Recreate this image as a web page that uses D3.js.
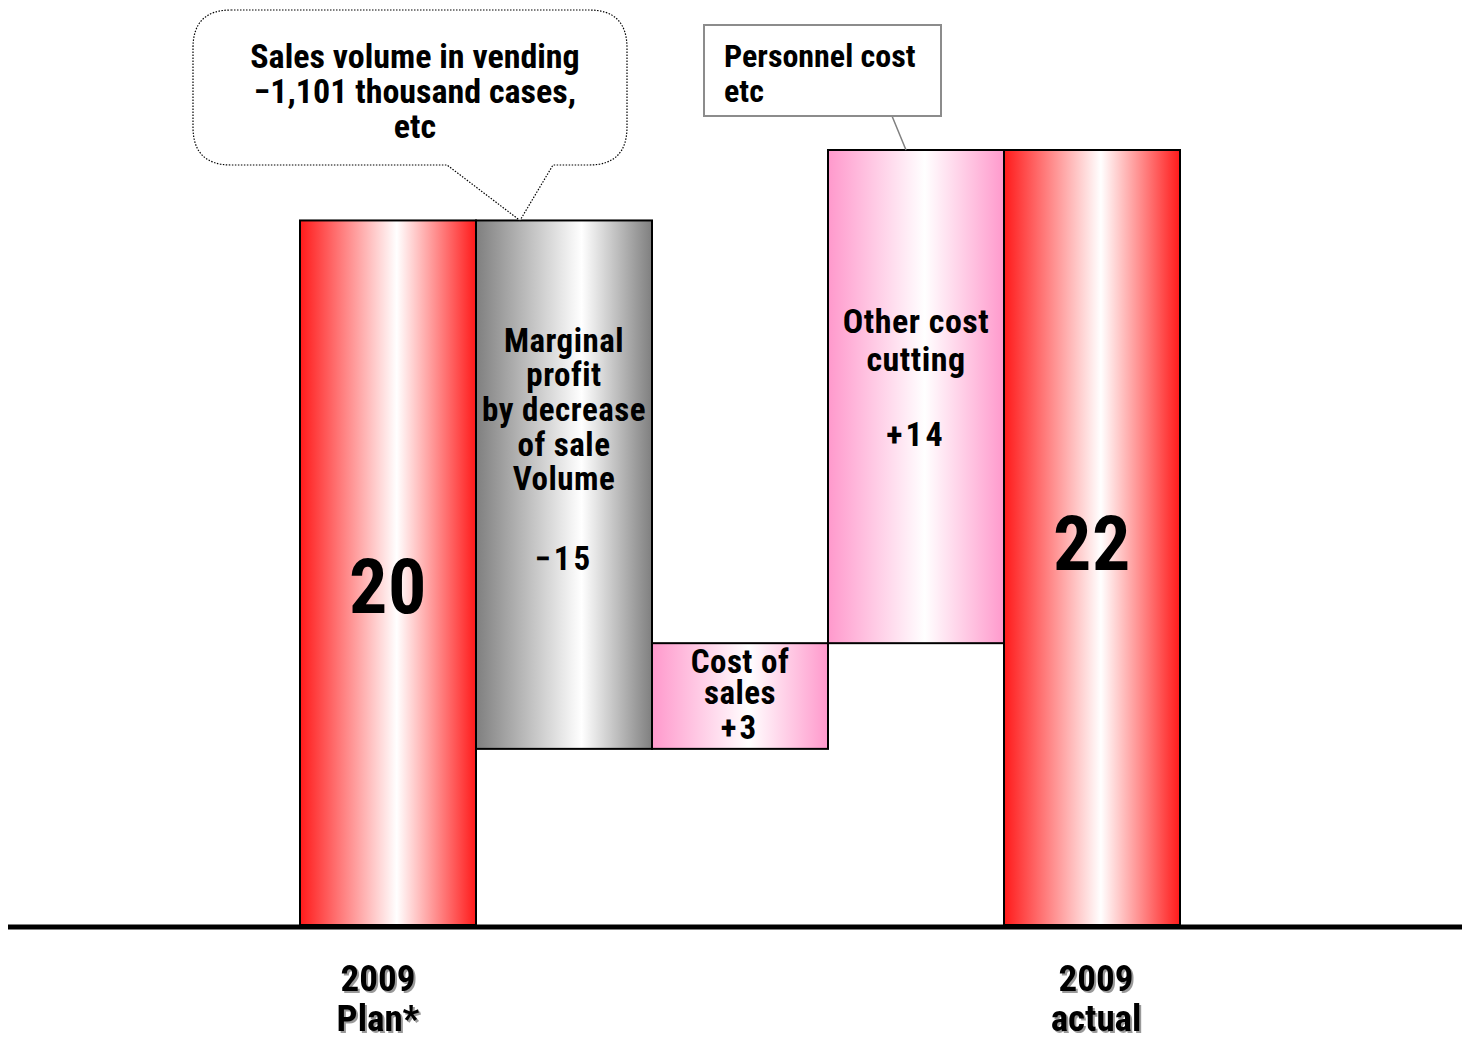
<!DOCTYPE html>
<html>
<head>
<meta charset="utf-8">
<script src="https://cdn.jsdelivr.net/npm/d3@7"></script>
<style>
  html, body { margin: 0; padding: 0; background: #fff; }
  svg { display: block; }
  text { font-family: "Liberation Sans Narrow", "Roboto Condensed", "Liberation Sans", sans-serif; font-weight: bold; fill: #000; }
</style>
</head>
<body>
<svg id="chart" width="1462" height="1040"></svg>
<script>
// Operating income bridge: 2009 plan -> 2009 actual
const categories = ["plan", "marginal", "costOfSales", "otherCost", "actual"];
const values = [20, -15, 3, 14, 22];
const kinds = ["total", "delta", "delta", "delta", "total"];
const barLabels = [
  ["20"],
  ["Marginal", "profit", "by decrease", "of sale", "Volume", "\u221215"],
  ["Cost of", "sales", "+3"],
  ["Other cost", "cutting", "+14"],
  ["22"]
];
const axisLabels = [["2009", "Plan*"], null, null, null, ["2009", "actual"]];
const calloutText = ["Sales volume in vending", "\u22121,101 thousand cases,", "etc"];
const noteText = ["Personnel cost", "etc"];

const svg = d3.select("#chart");
const defs = svg.append("defs");

function hGradient(id, edge, mid, midPos) {
  const g = defs.append("linearGradient").attr("id", id)
    .attr("x1", "0%").attr("x2", "100%").attr("y1", "0%").attr("y2", "0%");
  g.append("stop").attr("offset", "0%").attr("stop-color", edge);
  g.append("stop").attr("offset", midPos).attr("stop-color", mid);
  g.append("stop").attr("offset", "100%").attr("stop-color", edge);
}
hGradient("gRed", "#ff1a1a", "#ffffff", "55%");
hGradient("gGray", "#7f7f7f", "#ffffff", "60%");
hGradient("gPink", "#ff99cc", "#ffffff", "55%");

const shadow = defs.append("filter").attr("id", "shadow")
  .attr("x", "-20%").attr("y", "-20%").attr("width", "140%").attr("height", "140%");
shadow.append("feDropShadow").attr("dx", 2).attr("dy", 2)
  .attr("stdDeviation", 0.6).attr("flood-color", "#000").attr("flood-opacity", 0.4);

// Scales
const x = d3.scaleBand().domain(categories).range([300, 1180]).padding(0);
const y = d3.scaleLinear().domain([0, 22]).range([925, 150]);

// Waterfall extents
let running = 0;
const bars = categories.map((c, i) => {
  let lo, hi;
  if (kinds[i] === "total") {
    lo = 0; hi = values[i]; running = values[i];
  } else {
    const next = running + values[i];
    lo = Math.min(running, next); hi = Math.max(running, next);
    running = next;
  }
  return { cat: c, value: values[i], kind: kinds[i], lo, hi, i };
});

const fillFor = d => d.kind === "total" ? "url(#gRed)" : (d.value < 0 ? "url(#gGray)" : "url(#gPink)");

svg.append("g").selectAll("rect").data(bars).join("rect")
  .attr("x", d => x(d.cat))
  .attr("width", x.bandwidth())
  .attr("y", d => y(d.hi))
  .attr("height", d => y(d.lo) - y(d.hi))
  .attr("fill", fillFor)
  .attr("stroke", "#000")
  .attr("stroke-width", 2);

// Baseline
svg.append("line")
  .attr("x1", 8).attr("x2", 1462)
  .attr("y1", y(0) + 2).attr("y2", y(0) + 2)
  .attr("stroke", "#000").attr("stroke-width", 5);

// Labels inside bars: line baselines offset from the bar's top (deltas) or from the axis (totals)
const labelLayout = [
  { from: "base", offsets: [-312], size: 76 },
  { from: "top", offsets: [132, 166, 201, 236, 270, 350], size: 33 },
  { from: "top", offsets: [30, 61, 96], size: 33 },
  { from: "top", offsets: [183, 221, 296], size: 34 },
  { from: "base", offsets: [-355], size: 76 }
];
bars.forEach(d => {
  const lay = labelLayout[d.i];
  const cx = x(d.cat) + x.bandwidth() / 2;
  const ref = lay.from === "top" ? y(d.hi) : y(0);
  const t = svg.append("text")
    .attr("text-anchor", "middle")
    .style("font-size", lay.size + "px");
  const lines = barLabels[d.i];
  lines.forEach((line, k) => {
    const isValue = k === lines.length - 1 && lines.length > 1;
    t.append("tspan").attr("x", cx).attr("y", ref + lay.offsets[k])
      .style("letter-spacing", isValue ? "3px" : "0.5px")
      .text(line);
  });
});

// Category labels below the axis
bars.forEach(d => {
  const lines = axisLabels[d.i];
  if (!lines) return;
  const cx = x(d.cat) + x.bandwidth() / 2 - (d.i === 0 ? 10 : -4);
  const t = svg.append("text")
    .attr("text-anchor", "middle")
    .attr("filter", "url(#shadow)")
    .style("font-size", "37px");
  lines.forEach((line, k) => {
    t.append("tspan").attr("x", cx).attr("y", 991 + k * 40).text(line);
  });
});

// Speech-bubble callout pointing to the volume bar
const mBar = bars[1];
const tipX = x(mBar.cat) + 44, tipY = y(mBar.hi);
const bx0 = 193, bx1 = 627, by0 = 10, by1 = 165, r = 38;
const bubble = d3.path();
bubble.moveTo(bx0 + r, by0);
bubble.lineTo(bx1 - r, by0);
bubble.quadraticCurveTo(bx1, by0, bx1, by0 + r);
bubble.lineTo(bx1, by1 - r);
bubble.quadraticCurveTo(bx1, by1, bx1 - r, by1);
bubble.lineTo(553, by1);
bubble.lineTo(tipX, tipY);
bubble.lineTo(447, by1);
bubble.lineTo(bx0 + r, by1);
bubble.quadraticCurveTo(bx0, by1, bx0, by1 - r);
bubble.lineTo(bx0, by0 + r);
bubble.quadraticCurveTo(bx0, by0, bx0 + r, by0);
bubble.closePath();
svg.append("path").attr("d", bubble.toString())
  .attr("fill", "#fff").attr("stroke", "#000")
  .attr("stroke-width", 1.2).attr("stroke-dasharray", "1.5,1.5");
const ct = svg.append("text").attr("text-anchor", "middle").style("font-size", "34px");
calloutText.forEach((line, k) => {
  ct.append("tspan").attr("x", 415).attr("y", 68 + k * 35).text(line);
});

// Note box with leader line to the cost-cutting bar
const oBar = bars[3];
svg.append("line")
  .attr("x1", 892).attr("y1", 116)
  .attr("x2", x(oBar.cat) + 78).attr("y2", y(oBar.hi))
  .attr("stroke", "#808080").attr("stroke-width", 1.5);
svg.append("rect")
  .attr("x", 704).attr("y", 25).attr("width", 237).attr("height", 91)
  .attr("fill", "#fff").attr("stroke", "#8c8c8c").attr("stroke-width", 2);
const nt = svg.append("text").style("font-size", "32px");
noteText.forEach((line, k) => {
  nt.append("tspan").attr("x", 724).attr("y", 67 + k * 35).text(line);
});
</script>
</body>
</html>
